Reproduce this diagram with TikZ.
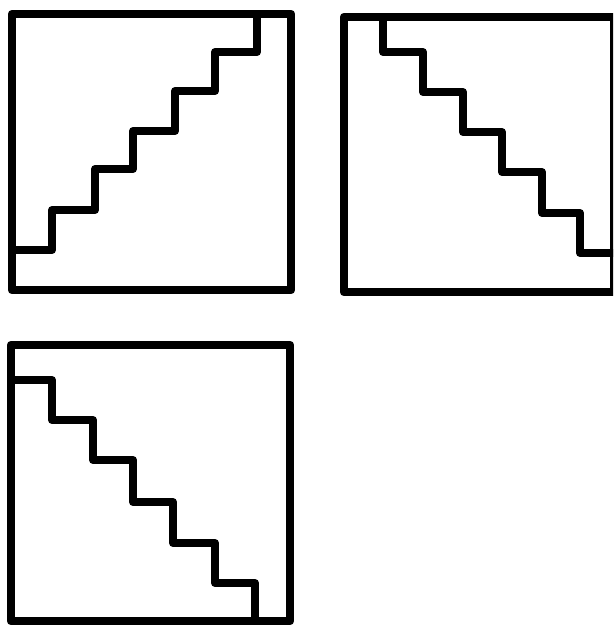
\documentclass[tikz,border=0pt]{standalone}
\usepackage{tikz}

\begin{document}
\begin{tikzpicture}[
  x=1pt, y=-1pt,
  frame/.style={draw, line width=8.5pt, line join=round},
  stair/.style={draw, line width=8pt, line join=round}]
\useasboundingbox (0,0) rectangle (613,626);
\clip (0,0) rectangle (613,626);
% ---- top left: stair rising to the right ----
\draw[frame] (12,14) rectangle (291,290);
\draw[stair] (12,250) -| (52,210) -| (95,169) -| (133,131)
  -| (175,91) -| (215,52) -| (257,14);
% ---- top right: stair falling to the right ----
\draw[frame] (344,17) rectangle (614,292);
\draw[stair] (383,17) |- (423,52) |- (463,92) |- (502,132)
  |- (542,172) |- (580,213) |- (614,253);
% ---- bottom left: stair falling to the right ----
\draw[frame] (11,345) rectangle (290,621);
\draw[stair] (11,380) -| (52,420) -| (93,460) -| (133,502)
  -| (173,543) -| (215,583) -| (255,621);
\end{tikzpicture}
\end{document}
